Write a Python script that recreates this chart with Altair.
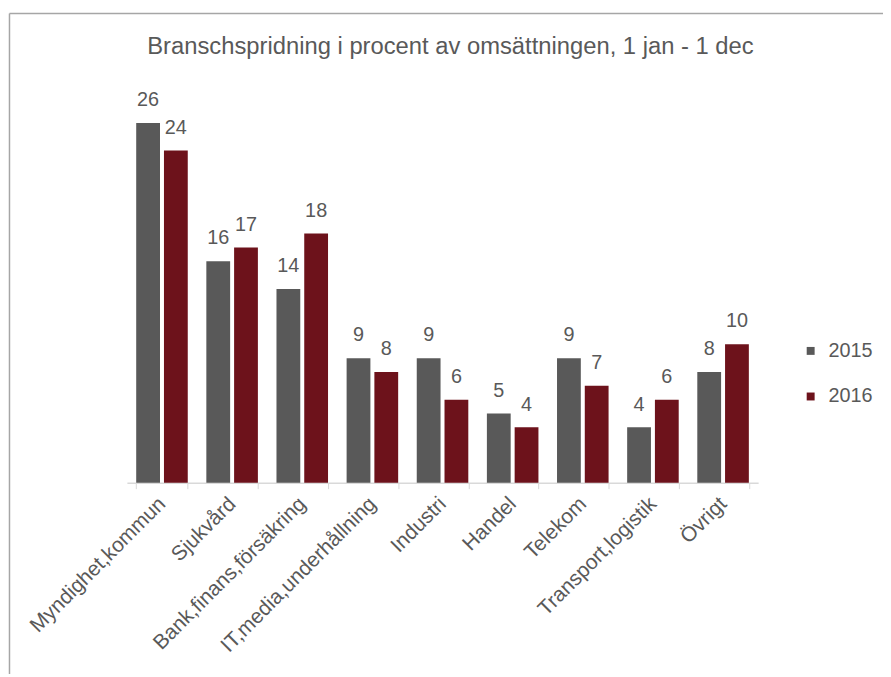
import altair as alt
import pandas as pd

categories = ["Myndighet,kommun", "Sjukvård", "Bank,finans,försäkring",
              "IT,media,underhållning", "Industri", "Handel", "Telekom",
              "Transport,logistik", "Övrigt"]
years = ["2015", "2016"]
values_2015 = [26, 16, 14, 9, 9, 5, 9, 4, 8]
values_2016 = [24, 17, 18, 8, 6, 4, 7, 6, 10]
colors = ["#595959", "#6d121b"]
title_text = "Branschspridning i procent av omsättningen, 1 jan - 1 dec"

rows = []
for c, a, b in zip(categories, values_2015, values_2016):
    rows.append({"Bransch": c, "År": years[0], "Procent": a})
    rows.append({"Bransch": c, "År": years[1], "Procent": b})
df = pd.DataFrame(rows)

FONT = "Liberation Sans"
TXT = "#595959"

base = alt.Chart(df).encode(
    x=alt.X("Bransch:N", sort=categories,
            scale=alt.Scale(paddingInner=0.265, paddingOuter=0.1325),
            axis=alt.Axis(title=None, labelAngle=-45, labelAlign="right",
                          labelBaseline="middle", labelFont=FONT,
                          labelFontSize=21, labelColor=TXT, labelPadding=12,
                          tickBand="extent", tickColor="#d9d9d9", tickSize=6,
                          domainColor="#d9d9d9", domainWidth=1.5,
                          labelLimit=400)),
    xOffset=alt.XOffset("År:N", sort=years,
                        scale=alt.Scale(paddingInner=0.143, paddingOuter=0)),
    y=alt.Y("Procent:Q", scale=alt.Scale(domain=[0, 28], nice=False),
            axis=None),
)

bars = base.mark_bar().encode(
    color=alt.Color("År:N", sort=years,
                    scale=alt.Scale(domain=years, range=colors),
                    legend=alt.Legend(title=None, orient="none",
                                      legendX=680, legendY=248,
                                      symbolType="square", symbolSize=64,
                                      symbolStrokeWidth=0,
                                      labelFont=FONT, labelFontSize=20,
                                      labelColor=TXT, rowPadding=26,
                                      labelOffset=8))
)

labels = base.mark_text(baseline="alphabetic", dy=-17, font=FONT,
                        fontSize=20, color=TXT).encode(text="Procent:Q")

frame_df = pd.DataFrame({"k": [0]})
left_line = alt.Chart(frame_df).mark_rule(color="#a6a6a6", strokeWidth=1.5).encode(
    x=alt.value(-118.5), y=alt.value(-82.5), y2=alt.value(600))
top_line = alt.Chart(frame_df).mark_rule(color="#a6a6a6", strokeWidth=1.5).encode(
    x=alt.value(-118.5), x2=alt.value(780), y=alt.value(-82.5))

chart = alt.layer(left_line, top_line, bars, labels).properties(
    width=637, height=391,
    autosize=alt.AutoSizeParams(type="none"),
    padding={"left": 120, "top": 85, "right": 126, "bottom": 190},
    title=alt.TitleParams(title_text, font=FONT, fontSize=24,
                          fontWeight="normal", color=TXT, anchor="middle",
                          frame="group", offset=-47, dx=8),
).configure(background="white", view=alt.ViewConfig(stroke=None))

chart.save("out.html", embed_options={"renderer": "svg", "actions": False})
